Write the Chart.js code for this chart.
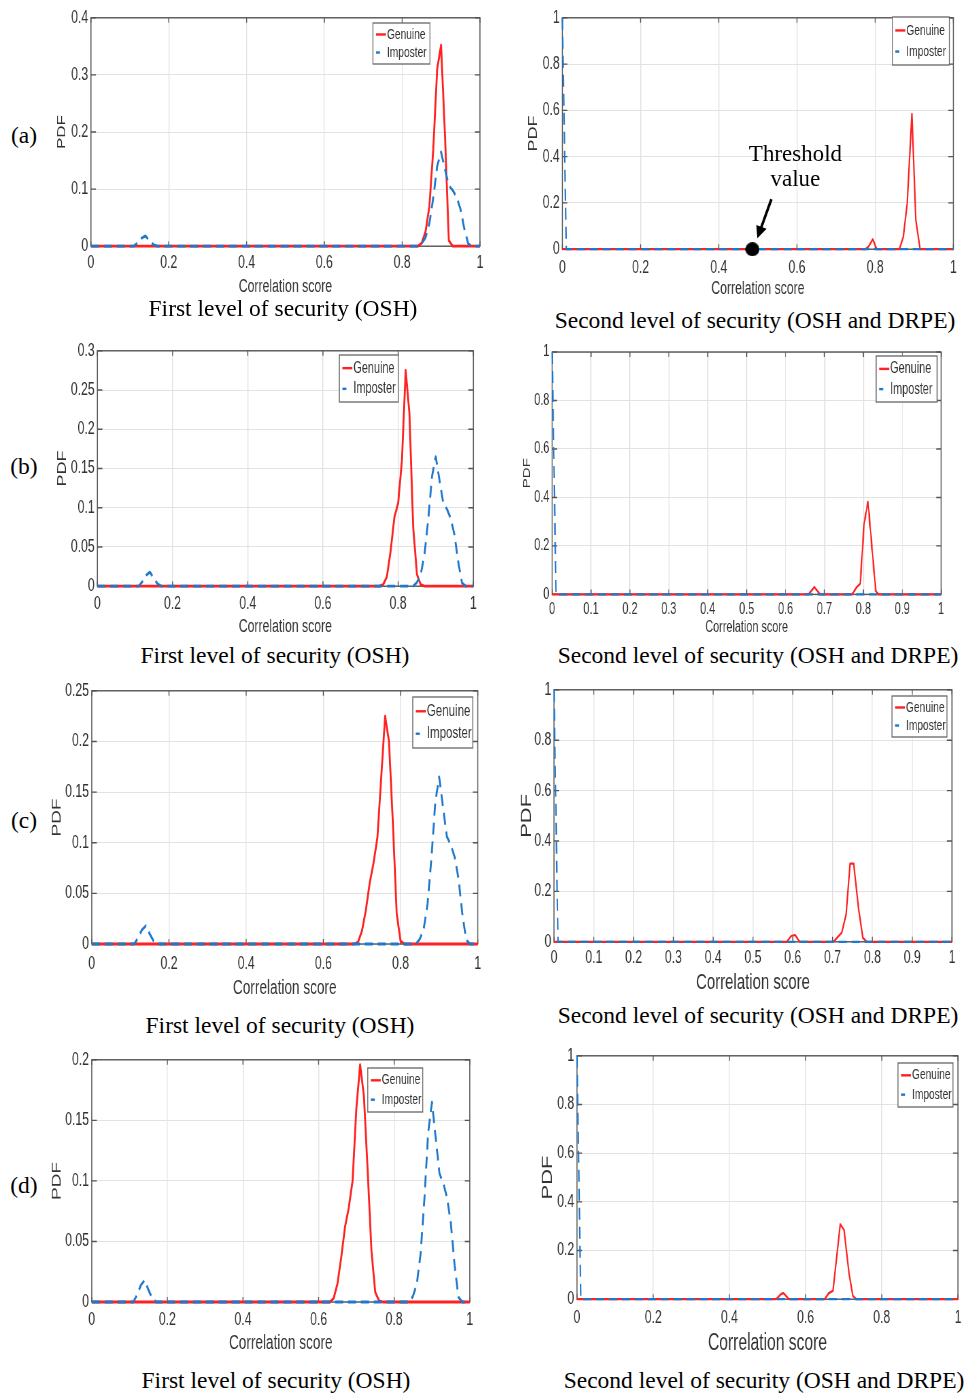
<!DOCTYPE html>
<html>
<head>
<meta charset="utf-8">
<script src="https://cdn.jsdelivr.net/npm/chart.js@4.4.1/dist/chart.umd.min.js"></script>
<style>
html, body { margin: 0; padding: 0; background: #fff; }
#page { position: relative; width: 967px; height: 1393px; overflow: hidden; background: #fff; }
#page canvas { position: absolute; transform-origin: 0 0; }
.cap { position: absolute; transform: translate(-50%, -50%); white-space: nowrap;
       font-family: 'Liberation Serif', 'Times New Roman', serif; font-size: 23.5px; color: #000; }
</style>
</head>
<body>
<div id="page"></div>
<script>
// The MATLAB panels are squeezed sideways in the paper figure, so every canvas is too
const SQUEEZE = 0.68;
const SANS = "'Liberation Sans', Arial, sans-serif";
const SERIF = "'Liberation Serif', 'Times New Roman', serif";
const RED = '#ff2020';
const BLUE = '#1f78cc';
const GRID = '#e2e2e2';
const AXIS = '#555';
const TEXT = '#333';

// Tick labels
const scoreTicksFifth = [0, 0.2, 0.4, 0.6, 0.8, 1];
const scoreTicksTenth = [0, 0.1, 0.2, 0.3, 0.4, 0.5, 0.6, 0.7, 0.8, 0.9, 1];
const pdfTicksA = [0, 0.1, 0.2, 0.3, 0.4];
const pdfTicksB = [0, 0.05, 0.1, 0.15, 0.2, 0.25, 0.3];
const pdfTicksC = [0, 0.05, 0.1, 0.15, 0.2, 0.25];
const pdfTicksD = [0, 0.05, 0.1, 0.15, 0.2];
const pdfTicksSecond = [0, 0.2, 0.4, 0.6, 0.8, 1];

// Imposter PDF, first level (same in all four rows)
const imposterFirstX = [0, 0.11, 0.12, 0.13, 0.14, 0.15, 0.16, 0.17, 0.84, 0.85, 0.86, 0.87, 0.88, 0.89, 0.90, 0.91, 0.92, 0.93, 0.94, 0.95, 0.96, 0.97, 0.98, 1];
const imposterFirstY = [0, 0, 0.006, 0.014, 0.018, 0.01, 0.003, 0, 0, 0.005, 0.015, 0.04, 0.085, 0.14, 0.165, 0.135, 0.106, 0.098, 0.086, 0.065, 0.03, 0.004, 0, 0];

// Imposter PDF, second level (all mass next to zero)
const imposterSecondX = [0, 0.01, 1];
const imposterSecondY = [1, 0, 0];

// Genuine PDF, first level
const genuineFirstAX = [0, 0.84, 0.85, 0.86, 0.87, 0.88, 0.89, 0.90, 0.91, 0.92, 0.93, 1];
const genuineFirstAY = [0, 0, 0.005, 0.025, 0.07, 0.17, 0.31, 0.352, 0.196, 0.01, 0, 0];
const genuineFirstBX = [0, 0.75, 0.76, 0.77, 0.78, 0.79, 0.80, 0.81, 0.82, 0.83, 0.84, 0.85, 0.86, 0.87, 1];
const genuineFirstBY = [0, 0, 0.002, 0.012, 0.045, 0.088, 0.106, 0.16, 0.275, 0.22, 0.075, 0.015, 0.002, 0, 0];
const genuineFirstCX = [0, 0.68, 0.69, 0.70, 0.71, 0.72, 0.73, 0.74, 0.75, 0.76, 0.77, 0.78, 0.79, 0.80, 0.81, 1];
const genuineFirstCY = [0, 0, 0.002, 0.013, 0.033, 0.06, 0.08, 0.105, 0.165, 0.225, 0.2, 0.12, 0.03, 0.003, 0, 0];
const genuineFirstDX = [0, 0.63, 0.64, 0.65, 0.66, 0.67, 0.68, 0.69, 0.70, 0.71, 0.72, 0.73, 0.74, 0.75, 0.76, 0.77, 1];
const genuineFirstDY = [0, 0, 0.003, 0.015, 0.037, 0.062, 0.078, 0.1, 0.16, 0.196, 0.17, 0.108, 0.042, 0.008, 0.001, 0, 0];

// Genuine PDF, second level
const genuineSecondAX = [0, 0.775, 0.783, 0.794, 0.804, 0.862, 0.872, 0.882, 0.894, 0.904, 0.915, 1];
const genuineSecondAY = [0, 0, 0.011, 0.043, 0, 0, 0.054, 0.198, 0.585, 0.126, 0, 0];
const genuineSecondBX = [0, 0.659, 0.674, 0.689, 0.771, 0.783, 0.792, 0.802, 0.812, 0.822, 0.832, 0.839, 1];
const genuineSecondBY = [0, 0, 0.03, 0, 0, 0.03, 0.044, 0.292, 0.382, 0.196, 0.014, 0, 0];
const genuineSecondCX = [0, 0.585, 0.596, 0.606, 0.617, 0.702, 0.723, 0.734, 0.744, 0.753, 0.765, 0.776, 0.786, 1];
const genuineSecondCY = [0, 0, 0.023, 0.027, 0, 0, 0.036, 0.109, 0.31, 0.31, 0.135, 0.016, 0, 0];
const genuineSecondDX = [0, 0.523, 0.536, 0.542, 0.556, 0.650, 0.661, 0.672, 0.691, 0.701, 0.714, 0.724, 0.733, 1];
const genuineSecondDY = [0, 0, 0.022, 0.025, 0, 0, 0.025, 0.035, 0.308, 0.284, 0.106, 0.014, 0, 0];

const thresholdScore = 0.486;

const FIRST = 'First level of security (OSH)';
const SECOND = 'Second level of security (OSH and DRPE)';

// Layout of each panel, in page pixels
const panels = [
  { letter: '(a)', letterY: 135, plot: { l: 91, t: 17, r: 480, b: 246 }, xTicks: scoreTicksFifth, yTicks: pdfTicksA,
    gx: genuineFirstAX, gy: genuineFirstAY, ix: imposterFirstX, iy: imposterFirstY, lw: 2.8,
    tick: 18, xTickDy: 16, yTitle: { x: 62, size: 17 }, xTitle: { y: 287, size: 18 },
    legend: { x: 373, y: 23, w: 57, h: 41, size: 15 }, caption: { text: FIRST, x: 283, y: 308 } },
  { plot: { l: 562, t: 17, r: 953, b: 249 }, xTicks: scoreTicksFifth, yTicks: pdfTicksSecond,
    gx: genuineSecondAX, gy: genuineSecondAY, ix: imposterSecondX, iy: imposterSecondY, lw: 2.2,
    tick: 18, xTickDy: 18, yTitle: { x: 533, size: 18 }, xTitle: { y: 289, size: 18 },
    legend: { x: 892, y: 17, w: 57, h: 48, size: 15 }, caption: { text: SECOND, x: 755, y: 320 },
    threshold: thresholdScore },
  { letter: '(b)', letterY: 466, plot: { l: 97, t: 350, r: 473, b: 586 }, xTicks: scoreTicksFifth, yTicks: pdfTicksB,
    gx: genuineFirstBX, gy: genuineFirstBY, ix: imposterFirstX, iy: imposterFirstY, lw: 2.8,
    tick: 18, xTickDy: 17, yTitle: { x: 62, size: 18 }, xTitle: { y: 627, size: 18 },
    legend: { x: 339, y: 355, w: 59, h: 47, size: 16 }, caption: { text: FIRST, x: 275, y: 655 } },
  { plot: { l: 552, t: 352, r: 941, b: 594 }, xTicks: scoreTicksTenth, yTicks: pdfTicksSecond,
    gx: genuineSecondBX, gy: genuineSecondBY, ix: imposterSecondX, iy: imposterSecondY, lw: 2.2,
    tick: 16, xTickDy: 14, yTitle: { x: 527, size: 15 }, xTitle: { y: 627, size: 16 },
    legend: { x: 876, y: 356, w: 61, h: 46, size: 16 }, caption: { text: SECOND, x: 758, y: 655 } },
  { letter: '(c)', letterY: 820, plot: { l: 92, t: 690, r: 478, b: 944 }, xTicks: scoreTicksFifth, yTicks: pdfTicksC,
    gx: genuineFirstCX, gy: genuineFirstCY, ix: imposterFirstX, iy: imposterFirstY, lw: 2.8,
    tick: 18, xTickDy: 19, yTitle: { x: 57, size: 19 }, xTitle: { y: 988, size: 20 },
    legend: { x: 413, y: 697, w: 60, h: 51, size: 17 }, caption: { text: FIRST, x: 280, y: 1025 } },
  { plot: { l: 554, t: 689, r: 952, b: 941 }, xTicks: scoreTicksTenth, yTicks: pdfTicksSecond,
    gx: genuineSecondCX, gy: genuineSecondCY, ix: imposterSecondX, iy: imposterSecondY, lw: 2.2,
    tick: 18, xTickDy: 15, yTitle: { x: 527, size: 22 }, xTitle: { y: 982, size: 22 },
    legend: { x: 892, y: 696, w: 55, h: 41, size: 15 }, caption: { text: SECOND, x: 758, y: 1015 } },
  { letter: '(d)', letterY: 1185, plot: { l: 92, t: 1059, r: 470, b: 1302 }, xTicks: scoreTicksFifth, yTicks: pdfTicksD,
    gx: genuineFirstDX, gy: genuineFirstDY, ix: imposterFirstX, iy: imposterFirstY, lw: 2.8,
    tick: 18, xTickDy: 17, yTitle: { x: 57, size: 19 }, xTitle: { y: 1343, size: 20 },
    legend: { x: 368, y: 1068, w: 55, h: 44, size: 15 }, caption: { text: FIRST, x: 276, y: 1380 } },
  { plot: { l: 577, t: 1055, r: 958, b: 1299 }, xTicks: scoreTicksFifth, yTicks: pdfTicksSecond,
    gx: genuineSecondDX, gy: genuineSecondDY, ix: imposterSecondX, iy: imposterSecondY, lw: 2.2,
    tick: 18, xTickDy: 18, yTitle: { x: 548, size: 22 }, xTitle: { y: 1343, size: 23 },
    legend: { x: 898, y: 1063, w: 55, h: 44, size: 15 }, caption: { text: SECOND, x: 764, y: 1380 } }
];

const page = document.getElementById('page');

function toPoints(xs, ys) {
  return xs.map((x, i) => ({ x: x, y: ys[i] }));
}

function tickText(v) {
  return String(+v.toFixed(2));
}

// black dot, pre-stretched so it looks round after the squeeze
function dotImage(r) {
  const c = document.createElement('canvas');
  c.width = Math.ceil(2 * r / SQUEEZE);
  c.height = 2 * r;
  const g = c.getContext('2d');
  g.fillStyle = '#000';
  g.beginPath();
  g.ellipse(c.width / 2, r, r / SQUEEZE, r, 0, 0, Math.PI * 2);
  g.fill();
  return c;
}

// MATLAB style box with inward ticks
const matlabFrame = {
  id: 'matlabFrame',
  beforeDatasetsDraw(chart) {
    const { ctx, chartArea: a, scales: { x, y } } = chart;
    ctx.save();
    ctx.strokeStyle = AXIS;
    ctx.lineWidth = 1.4;
    ctx.strokeRect(a.left, a.top, a.right - a.left, a.bottom - a.top);
    ctx.beginPath();
    x.ticks.forEach(t => {
      const px = x.getPixelForValue(t.value);
      ctx.moveTo(px, a.bottom); ctx.lineTo(px, a.bottom - 5);
      ctx.moveTo(px, a.top); ctx.lineTo(px, a.top + 5);
    });
    y.ticks.forEach(t => {
      const py = y.getPixelForValue(t.value);
      ctx.moveTo(a.left, py); ctx.lineTo(a.left + 5 / SQUEEZE, py);
      ctx.moveTo(a.right, py); ctx.lineTo(a.right - 5 / SQUEEZE, py);
    });
    ctx.stroke();
    ctx.restore();
  }
};

const boxLegend = {
  id: 'boxLegend',
  afterDatasetsDraw(chart, args, o) {
    if (!o.box) return;
    const ctx = chart.ctx;
    const b = o.box;
    const ix = v => (v - o.left) / SQUEEZE;
    const iy = v => v - o.top;
    ctx.save();
    ctx.fillStyle = '#fff';
    ctx.fillRect(ix(b.x), iy(b.y), b.w / SQUEEZE, b.h);
    ctx.strokeStyle = '#666';
    ctx.lineWidth = 1.3;
    ctx.strokeRect(ix(b.x), iy(b.y), b.w / SQUEEZE, b.h);
    const rows = chart.data.datasets.filter(d => d.inLegend);
    rows.forEach((d, i) => {
      const cy = iy(b.y + b.h * (i === 0 ? 0.28 : 0.72));
      ctx.strokeStyle = d.borderColor;
      ctx.lineWidth = 2.4;
      ctx.beginPath();
      ctx.moveTo(ix(b.x + 3), cy);
      ctx.lineTo(ix(b.x + (d.borderDash ? 7 : 13)), cy);
      ctx.stroke();
      ctx.fillStyle = TEXT;
      ctx.font = b.size + 'px ' + SANS;
      ctx.textAlign = 'left';
      ctx.textBaseline = 'middle';
      ctx.fillText(d.label, ix(b.x + 14), cy);
    });
    ctx.restore();
  }
};

// "Threshold value" note with an arrow pointing at the dot
const thresholdNote = {
  id: 'thresholdNote',
  afterDatasetsDraw(chart, args, o) {
    if (o.value === undefined) return;
    const { ctx, scales: { x, y } } = chart;
    ctx.save();
    ctx.translate(x.getPixelForValue(o.value), y.getPixelForValue(0));
    ctx.scale(1 / SQUEEZE, 1); // back to page units, unsqueezed
    const tail = { x: 19, y: -50 }, tip = { x: 5, y: -11 };
    const len = Math.hypot(tip.x - tail.x, tip.y - tail.y);
    const ux = (tip.x - tail.x) / len, uy = (tip.y - tail.y) / len;
    ctx.strokeStyle = '#000';
    ctx.fillStyle = '#000';
    ctx.lineWidth = 2.6;
    ctx.beginPath();
    ctx.moveTo(tail.x, tail.y);
    ctx.lineTo(tip.x - ux * 8, tip.y - uy * 8);
    ctx.stroke();
    const bx = tip.x - ux * 12, by = tip.y - uy * 12;
    ctx.beginPath();
    ctx.moveTo(tip.x, tip.y);
    ctx.lineTo(bx - uy * 5.5, by + ux * 5.5);
    ctx.lineTo(bx + uy * 5.5, by - ux * 5.5);
    ctx.closePath();
    ctx.fill();
    ctx.font = '23px ' + SERIF;
    ctx.textAlign = 'center';
    ctx.textBaseline = 'middle';
    ctx.fillText('Threshold', 43, -94);
    ctx.fillText('value', 43, -69);
    ctx.restore();
  }
};

function addText(text, x, y, cls) {
  const d = document.createElement('div');
  d.className = cls;
  d.style.left = x + 'px';
  d.style.top = y + 'px';
  d.textContent = text;
  page.appendChild(d);
}

function buildPanel(p) {
  const lhY = p.yTitle.size * 1.2;
  const lhX = p.xTitle.size * 1.2;
  const left = p.yTitle.x - (lhY / 2) * SQUEEZE;
  const topPad = 14;
  const top = p.plot.t - topPad;
  const yW = (p.plot.l - left) / SQUEEZE;
  const innerW = (p.plot.r - p.plot.l) / SQUEEZE;
  const W = Math.ceil(yW + innerW + 16);
  const rightPad = W - yW - innerW;
  const xH = (p.xTitle.y - p.plot.b) + lhX / 2;
  const H = Math.ceil(topPad + (p.plot.b - p.plot.t) + xH);

  const canvas = document.createElement('canvas');
  canvas.width = W;
  canvas.height = H;
  canvas.style.left = left + 'px';
  canvas.style.top = top + 'px';
  canvas.style.transform = 'scaleX(' + SQUEEZE + ')';
  page.appendChild(canvas);

  const datasets = [
    { label: 'Genuine', inLegend: true, data: toPoints(p.gx, p.gy), borderColor: RED,
      borderWidth: p.lw, order: 2, clip: 8 },
    { label: 'Imposter', inLegend: true, data: toPoints(p.ix, p.iy), borderColor: BLUE,
      borderWidth: p.lw, borderDash: [12, 7], order: 1, clip: 8 }
  ];
  if (p.threshold !== undefined) {
    datasets.push({ label: 'Threshold', data: [{ x: p.threshold, y: 0 }], showLine: false,
      pointStyle: dotImage(7), pointRadius: 7, order: 0, clip: false });
  }

  new Chart(canvas, {
    type: 'line',
    data: { datasets: datasets },
    options: {
      responsive: false,
      devicePixelRatio: 1,
      animation: false,
      events: [],
      layout: { padding: { left: 0, top: topPad, right: rightPad, bottom: 0 } },
      elements: { line: { tension: 0, borderJoinStyle: 'round' }, point: { radius: 0 } },
      plugins: {
        legend: { display: false },
        tooltip: { enabled: false },
        boxLegend: { box: p.legend, left: left, top: top },
        thresholdNote: { value: p.threshold }
      },
      scales: {
        x: {
          type: 'linear', min: 0, max: 1,
          afterBuildTicks: s => { s.ticks = p.xTicks.map(v => ({ value: v })); },
          afterFit: s => { s.height = xH; },
          grid: { color: GRID, lineWidth: 1.4, drawTicks: false },
          border: { display: false },
          ticks: { autoSkip: false, maxRotation: 0, padding: p.xTickDy - p.tick * 0.55,
                   color: TEXT, font: { family: SANS, size: p.tick }, callback: tickText },
          title: { display: true, text: 'Correlation score', color: TEXT, padding: 0,
                   font: { family: SANS, size: p.xTitle.size } }
        },
        y: {
          type: 'linear', min: 0, max: p.yTicks[p.yTicks.length - 1],
          afterBuildTicks: s => { s.ticks = p.yTicks.map(v => ({ value: v })); },
          afterFit: s => { s.width = yW; },
          grid: { color: GRID, lineWidth: 1, drawTicks: false },
          border: { display: false },
          ticks: { autoSkip: false, padding: 4, color: TEXT,
                   font: { family: SANS, size: p.tick }, callback: tickText },
          title: { display: true, text: 'PDF', color: TEXT, padding: 0,
                   font: { family: SANS, size: p.yTitle.size } }
        }
      }
    },
    plugins: [matlabFrame, boxLegend, thresholdNote]
  });

  addText(p.caption.text, p.caption.x, p.caption.y, 'cap');
  if (p.letter) addText(p.letter, 24, p.letterY, 'cap');
}

panels.forEach(buildPanel);
</script>
</body>
</html>
